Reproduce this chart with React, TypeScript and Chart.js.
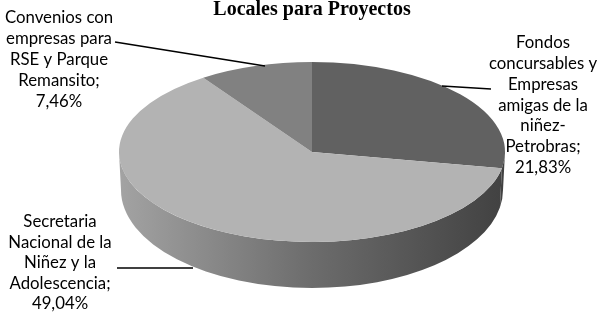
import React, { useEffect, useRef } from "react";
import { Chart, registerables } from "chart.js";

Chart.register(...registerables);

// ---- data ----
const titleText = "Locales para Proyectos";
const categories = [
  "Fondos concursables y Empresas amigas de la niñez-Petrobras",
  "Secretaria Nacional de la Niñez y la Adolescencia",
  "Convenios con empresas para RSE y Parque Remansito",
];
const values = [21.83, 49.04, 7.46];
const labelTextLines = [
  ["Fondos", "concursables y", "Empresas", "amigas de la", "niñez-", "Petrobras;"],
  ["Secretaria", "Nacional de la", "Niñez y la", "Adolescencia;"],
  ["Convenios con", "empresas para", "RSE y Parque", "Remansito;"],
];
const topColors = ["#616161", "#b3b3b3", "#818181"];

// ---- layout / style ----
const TOP = { cx: 312, cy: 152, rx: 193, ry: 90 };
const BOT = { cx: 312, cy: 190, rx: 191, ry: 98 };
const labelPos = [
  { x: 543, y: 43, lh: 20.7 },
  { x: 60, y: 222, lh: 20.5 },
  { x: 59, y: 18, lh: 21 },
];
const leaders = [
  [442, 86, 491, 89],
  [117, 268, 193, 268],
  [115, 42, 265, 66],
];

const fmtPct = (v: number) => v.toFixed(2).replace(".", ",") + "%";

const pie3d = {
  id: "pie3d",
  beforeDatasetsDraw(chart: any) {
    const ctx = chart.ctx as CanvasRenderingContext2D;
    const meta = chart.getDatasetMeta(0);
    const grad = ctx.createLinearGradient(TOP.cx - TOP.rx, 0, TOP.cx + TOP.rx, 0);
    grad.addColorStop(0, "#a3a3a3");
    grad.addColorStop(0.5, "#6c6c6c");
    grad.addColorStop(1, "#414141");
    meta.data.forEach((arc: any) => {
      const p = arc.getProps(["startAngle", "endAngle"], true);
      const a = Math.max(p.startAngle, 0);
      const b = Math.min(p.endAngle, Math.PI);
      if (b <= a) return;
      ctx.save();
      ctx.beginPath();
      ctx.ellipse(TOP.cx, TOP.cy, TOP.rx, TOP.ry, 0, a, b, false);
      ctx.ellipse(BOT.cx, BOT.cy, BOT.rx, BOT.ry, 0, b, a, true);
      ctx.closePath();
      ctx.fillStyle = grad;
      ctx.fill();
      ctx.restore();
    });
    const a0 = meta.data[0];
    const g = a0.getProps(["x", "y", "outerRadius"], true);
    ctx.save();
    ctx.translate(TOP.cx, TOP.cy);
    ctx.scale(TOP.rx / g.outerRadius, TOP.ry / g.outerRadius);
    ctx.translate(-g.x, -g.y);
  },
  afterDatasetsDraw(chart: any) {
    chart.ctx.restore();
  },
  afterDraw(chart: any) {
    const ctx = chart.ctx as CanvasRenderingContext2D;
    ctx.save();
    ctx.strokeStyle = "#000";
    ctx.lineWidth = 1.6;
    leaders.forEach(([x1, y1, x2, y2]) => {
      ctx.beginPath();
      ctx.moveTo(x1, y1);
      ctx.lineTo(x2, y2);
      ctx.stroke();
    });
    ctx.fillStyle = "#000";
    ctx.font = "16.8px Lato";
    ctx.textAlign = "center";
    ctx.textBaseline = "middle";
    labelTextLines.forEach((lines, i) => {
      const all = [...lines, fmtPct(values[i])];
      const pos = labelPos[i];
      all.forEach((t, j) => ctx.fillText(t, pos.x, pos.y + j * pos.lh));
    });
    ctx.restore();
  },
};

export default function App() {
  const ref = useRef<HTMLCanvasElement | null>(null);
  useEffect(() => {
    document.body.style.margin = "0";
    const chart = new Chart(ref.current as HTMLCanvasElement, {
      type: "pie",
      data: {
        labels: categories,
        datasets: [
          {
            data: values,
            backgroundColor: topColors,
            borderWidth: 0,
            clip: false as any,
          },
        ],
      },
      options: {
        responsive: false,
        animation: false,
        layout: { padding: { left: 26, top: 0, right: 0, bottom: 0 } },
        plugins: {
          legend: { display: false },
          tooltip: { enabled: false },
          title: {
            display: true,
            text: titleText,
            color: "#000",
            font: { family: "'Liberation Serif', serif", size: 20, weight: "bold", lineHeight: 1 },
            padding: { top: 0, bottom: 4 },
          },
        },
      },
      plugins: [pie3d],
    });
    return () => chart.destroy();
  }, []);
  return <canvas ref={ref} width={598} height={312} style={{ display: "block" }} />;
}
